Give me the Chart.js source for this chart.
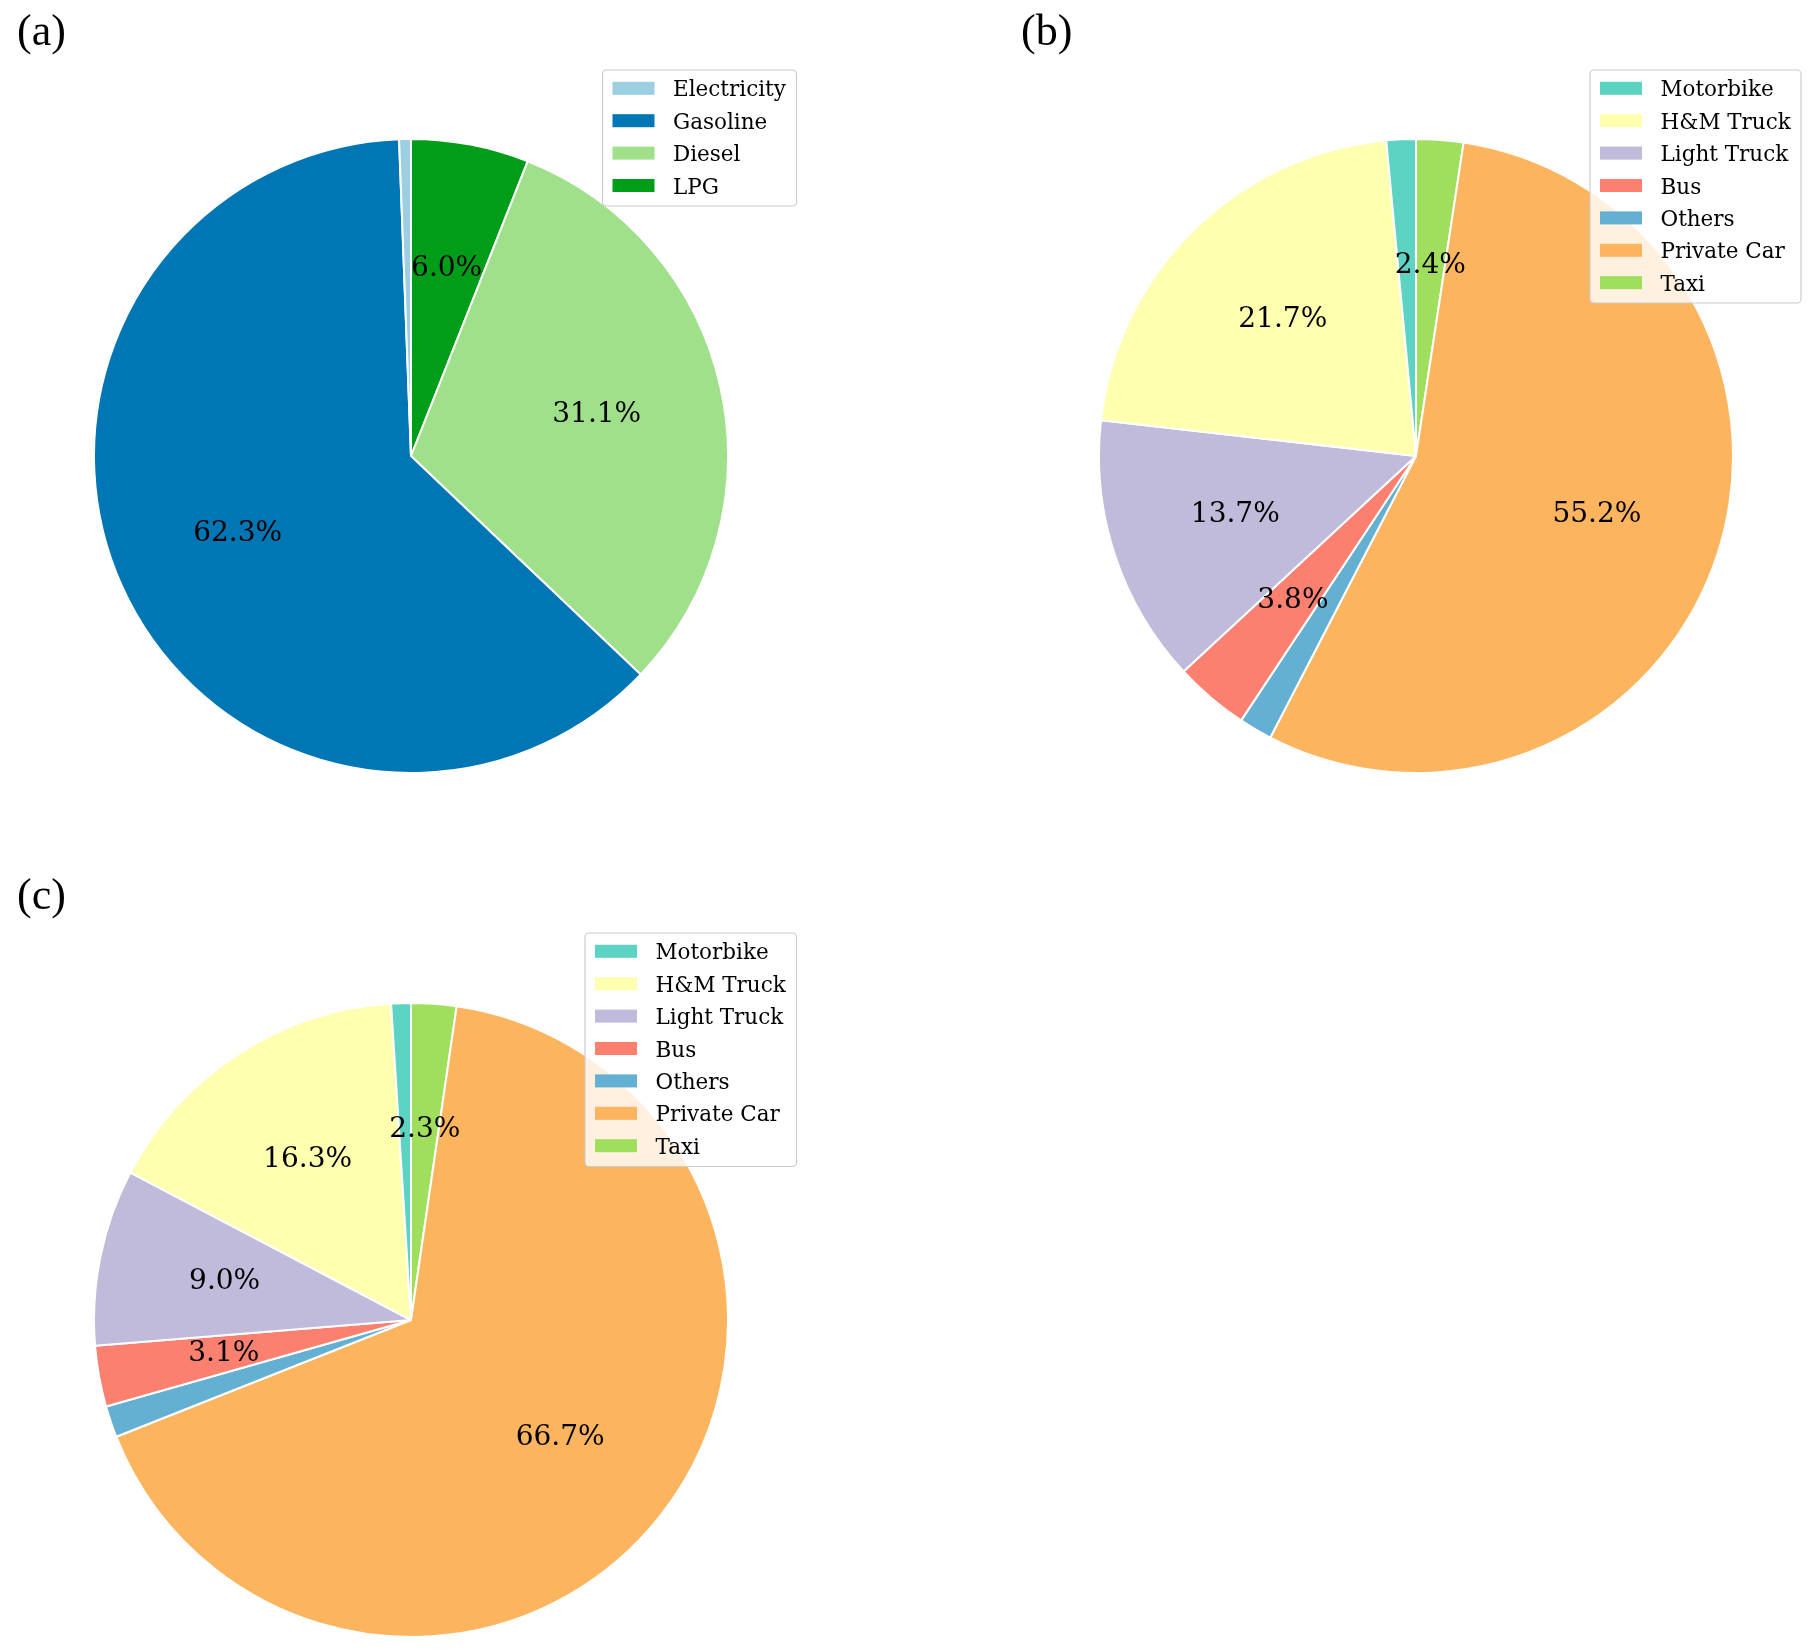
<!DOCTYPE html>
<html><head><meta charset="utf-8">
<script src="https://cdn.jsdelivr.net/npm/chart.js@4.4.1/dist/chart.umd.min.js"></script>
<style>
html,body{margin:0;padding:0;background:#fff;}
#page{position:relative;width:1816px;height:1651px;overflow:hidden;background:#fff;}
#page canvas{position:absolute;}
#overlay{position:absolute;left:0;top:0;}
</style></head><body>
<div id="page">
<canvas id="pieA" width="636" height="636" style="left:93px;top:138px"></canvas>
<canvas id="pieB" width="636" height="636" style="left:1098px;top:138px"></canvas>
<canvas id="pieC" width="636" height="636" style="left:93px;top:1002px"></canvas>
<svg id="overlay" width="1816" height="1651" xmlns="http://www.w3.org/2000/svg"></svg>
</div>
<script>
// ---------- data ----------
const panelTitles = ['(a)', '(b)', '(c)'];
const fuelLabels = ['Electricity', 'Gasoline', 'Diesel', 'LPG'];
const fuelShares = [0.6, 62.3, 31.1, 6.0];
const vehicleLabels = ['Motorbike', 'H&M Truck', 'Light Truck', 'Bus', 'Others', 'Private Car', 'Taxi'];
const vehicleSharesB = [1.5, 21.7, 13.7, 3.8, 1.7, 55.2, 2.4];
const vehicleSharesC = [1.0, 16.3, 9.0, 3.1, 1.6, 66.7, 2.3];

// ---------- styles ----------
const fuelColors = ['#9ccfe2', '#0076b4', '#a0e08a', '#009e18'];
const vehicleColors = ['#5dd3c4', '#ffffb0', '#c0badb', '#fb8070', '#63b0d3', '#fdb45e', '#a0df5e'];
const SERIF = '"DejaVu Serif", serif';

const pctLabelPlugin = {
  id: 'pctLabels',
  afterDatasetsDraw(chart) {
    const ctx = chart.ctx;
    const meta = chart.getDatasetMeta(0);
    const values = chart.data.datasets[0].data;
    const total = values.reduce((a, b) => a + b, 0);
    ctx.save();
    ctx.font = '28px ' + SERIF;
    ctx.fillStyle = '#000';
    ctx.textAlign = 'center';
    ctx.textBaseline = 'alphabetic';
    meta.data.forEach((arc, i) => {
      const pct = values[i] / total * 100;
      if (pct < 2) return;
      const p = arc.getProps(['x', 'y', 'startAngle', 'endAngle', 'outerRadius'], true);
      const mid = (p.startAngle + p.endAngle) / 2;
      const r = p.outerRadius * 0.6;
      ctx.fillText(pct.toFixed(1) + '%', p.x + Math.cos(mid) * r, p.y + Math.sin(mid) * r + 7);
    });
    ctx.restore();
  }
};

// matplotlib draws counter-clockwise from the top; Chart.js draws clockwise,
// so the slices are handed over in reverse order to obtain the same layout.
function makePie(id, labels, values, colors) {
  return new Chart(document.getElementById(id), {
    type: 'pie',
    data: {
      labels: labels.slice().reverse(),
      datasets: [{
        data: values.slice().reverse(),
        backgroundColor: colors.slice().reverse(),
        borderColor: '#ffffff',
        borderWidth: 2,
        hoverBorderWidth: 2,
        hoverOffset: 0
      }]
    },
    options: {
      responsive: false,
      animation: false,
      devicePixelRatio: 1,
      rotation: 0,
      layout: { padding: 0 },
      plugins: { legend: { display: false }, tooltip: { enabled: false } },
      events: []
    },
    plugins: [pctLabelPlugin]
  });
}

makePie('pieA', fuelLabels, fuelShares, fuelColors);
makePie('pieB', vehicleLabels, vehicleSharesB, vehicleColors);
makePie('pieC', vehicleLabels, vehicleSharesC, vehicleColors);

// ---------- overlay: panel titles and legends ----------
const NS = 'http://www.w3.org/2000/svg';
const svg = document.getElementById('overlay');
function el(tag, attrs, text) {
  const e = document.createElementNS(NS, tag);
  for (const k in attrs) e.setAttribute(k, attrs[k]);
  if (text !== undefined) e.textContent = text;
  svg.appendChild(e);
  return e;
}
const titlePos = [[17, 45], [1021, 45], [17, 909]];
panelTitles.forEach((t, i) => {
  el('text', { x: titlePos[i][0], y: titlePos[i][1], 'font-family': '"Liberation Serif", serif', 'font-size': '44px', fill: '#000' }, t);
});

function legend(box, labels, colors) {
  el('rect', { x: box.x, y: box.y, width: box.w, height: box.h, rx: 4, ry: 4,
    fill: 'rgba(255,255,255,0.8)', stroke: '#cccccc', 'stroke-width': 1.2 });
  labels.forEach((lab, i) => {
    const cy = box.y + 18.3 + i * 32.4;
    el('rect', { x: box.x + 10, y: cy - 6.5, width: 42, height: 13, fill: colors[i] });
    el('text', { x: box.x + 70.5, y: cy + 8, 'font-family': SERIF, 'font-size': '21.5px', fill: '#000' }, lab);
  });
}
legend({ x: 602.5, y: 70, w: 194, h: 136 }, fuelLabels, fuelColors);
legend({ x: 1590, y: 70, w: 211, h: 233 }, vehicleLabels, vehicleColors);
legend({ x: 585, y: 933, w: 211.5, h: 233.5 }, vehicleLabels, vehicleColors);
</script>
</body></html>
